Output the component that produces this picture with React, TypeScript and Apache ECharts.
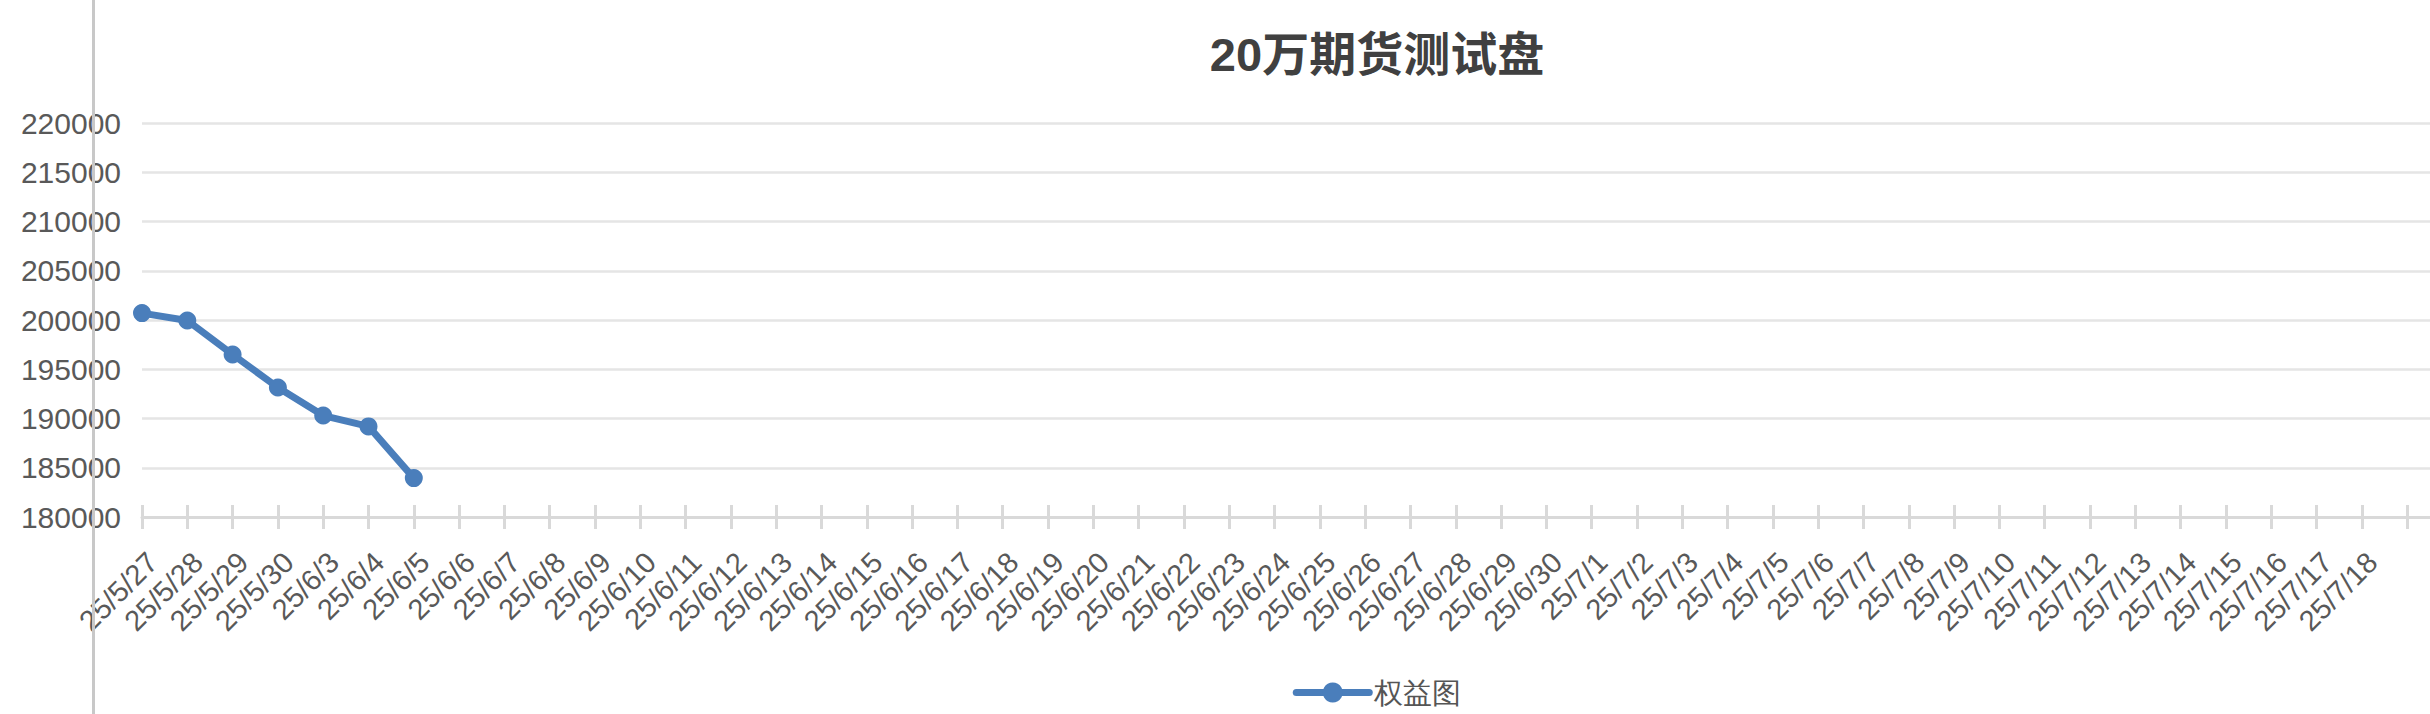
import React, { useEffect, useRef } from "react";
import * as echarts from "echarts";

const TITLE = "20万期货测试盘";
const SERIES_NAME = "权益图";

const categories: string[] = [
  "25/5/27", "25/5/28", "25/5/29", "25/5/30",
  "25/6/3", "25/6/4", "25/6/5", "25/6/6", "25/6/7", "25/6/8", "25/6/9",
  "25/6/10", "25/6/11", "25/6/12", "25/6/13", "25/6/14", "25/6/15", "25/6/16",
  "25/6/17", "25/6/18", "25/6/19", "25/6/20", "25/6/21", "25/6/22", "25/6/23",
  "25/6/24", "25/6/25", "25/6/26", "25/6/27", "25/6/28", "25/6/29", "25/6/30",
  "25/7/1", "25/7/2", "25/7/3", "25/7/4", "25/7/5", "25/7/6", "25/7/7",
  "25/7/8", "25/7/9", "25/7/10", "25/7/11", "25/7/12", "25/7/13", "25/7/14",
  "25/7/15", "25/7/16", "25/7/17", "25/7/18",
  "", "", "", "",
];

const equity: number[] = [200700, 199950, 196500, 193150, 190300, 189200, 183950];

const yMin = 180000;
const yMax = 220000;
const yStep = 5000;

const BLUE = "#4a7ebb";
const AXIS_GREY = "#d9d9d9";
const LABEL_GREY = "#595959";

export default function App() {
  const ref = useRef<HTMLDivElement>(null);

  useEffect(() => {
    if (!ref.current) return;
    const chart = echarts.init(ref.current, undefined, { renderer: "svg" });
    const tickStyle = { color: AXIS_GREY, width: 3 };
    chart.setOption({
      animation: false,
      backgroundColor: "#ffffff",
      title: {
        text: TITLE,
        left: "center",
        top: 31,
        padding: 0,
        textStyle: {
          fontSize: 47,
          fontWeight: "bold",
          color: "#404040",
          fontFamily: "'Liberation Sans', 'Noto Sans CJK SC', sans-serif",
        },
      },
      legend: {
        data: [SERIES_NAME],
        left: "center",
        top: 678,
        padding: 0,
        itemWidth: 73,
        itemHeight: 25,
        lineStyle: { width: 7, cap: "round" },
        textStyle: {
          fontSize: 29,
          color: "#555555",
          fontFamily: "serif",
        },
      },
      grid: { left: 142, right: 211, top: 123, bottom: 197 },
      xAxis: [
        {
          type: "category",
          data: categories,
          boundaryGap: false,
          axisLine: { show: true, lineStyle: { color: AXIS_GREY, width: 3 } },
          axisTick: { show: true, interval: 0, length: 12, lineStyle: tickStyle },
          axisLabel: {
            interval: 0,
            rotate: 45,
            margin: 51,
            fontSize: 29,
            color: LABEL_GREY,
            fontFamily: "'Liberation Sans', sans-serif",
            padding: [0, -15, 0, 0],
          },
          splitLine: { show: false },
        },
        {
          type: "category",
          data: categories,
          boundaryGap: false,
          position: "bottom",
          axisLine: { show: false },
          axisTick: { show: true, inside: true, interval: 0, length: 12, lineStyle: tickStyle },
          axisLabel: { show: false },
          splitLine: { show: false },
        },
      ],
      yAxis: {
        type: "value",
        min: yMin,
        max: yMax,
        interval: yStep,
        axisLine: { show: false },
        axisTick: { show: false },
        axisLabel: {
          margin: 21,
          fontSize: 30,
          color: LABEL_GREY,
          fontFamily: "'Liberation Sans', sans-serif",
          formatter: (v: number) => String(v),
        },
        splitLine: { show: true, lineStyle: { color: "#e5e5e5", width: 2.5 } },
      },
      series: [
        {
          name: SERIES_NAME,
          type: "line",
          xAxisIndex: 0,
          data: equity,
          symbol: "circle",
          symbolSize: 18,
          showSymbol: true,
          lineStyle: { color: BLUE, width: 7 },
          itemStyle: { color: BLUE },
        },
      ],
      graphic: [
        {
          type: "rect",
          z: 100,
          shape: { x: 92, y: 0, width: 3, height: 714 },
          style: { fill: "#c8c8c8" },
        },
      ],
    });
    return () => chart.dispose();
  }, []);

  return (
    <div
      style={{
        position: "fixed",
        left: 0,
        top: 0,
        width: 2430,
        height: 714,
        overflow: "hidden",
        background: "#ffffff",
      }}
    >
      <div ref={ref} style={{ width: 2754, height: 714 }} />
    </div>
  );
}
